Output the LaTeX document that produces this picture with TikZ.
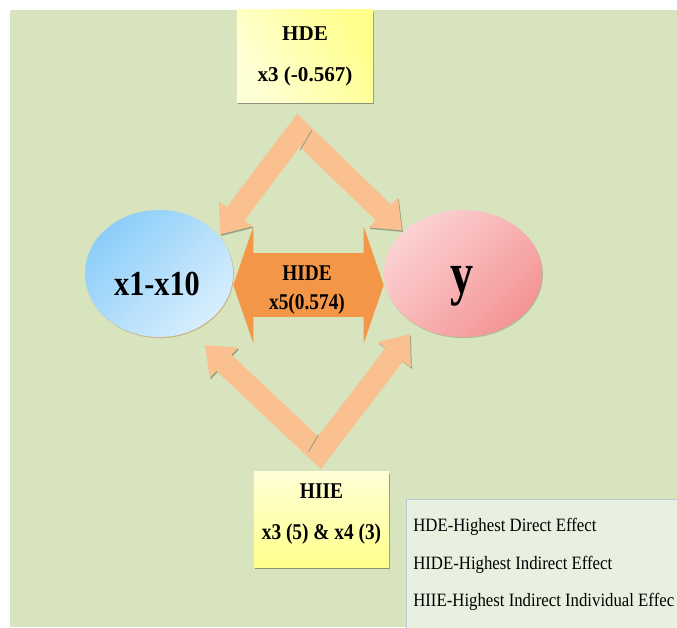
\documentclass[tikz,border=0pt]{standalone}
\usepackage{fontspec}
\setmainfont{Liberation Serif}
\newfontfamily\condfont{Liberation Serif}[FakeStretch=0.86]
\newfontfamily\legfont{Liberation Serif}[FakeStretch=0.89]
\newfontfamily\yfont{Liberation Serif}[FakeStretch=0.78]
\usetikzlibrary{shapes.geometric,arrows.meta,calc,shadows}

\definecolor{bggreen}{RGB}{215,228,189}
\definecolor{legfill}{RGB}{234,240,223}
\definecolor{legedge}{RGB}{184,204,214}
\definecolor{paleyellow}{RGB}{255,255,214}
\definecolor{boxyellow}{RGB}{255,255,140}
\definecolor{lightblue}{RGB}{140,206,249}
\definecolor{paleblue}{RGB}{216,238,253}
\definecolor{palepink}{RGB}{252,210,210}
\definecolor{rosepink}{RGB}{244,148,150}
\definecolor{peach}{RGB}{250,192,144}
\definecolor{hideorange}{RGB}{243,150,72}
\definecolor{edgegrey}{RGB}{150,162,130}

\begin{document}
\begin{tikzpicture}
        [x=0.025cm, y=-0.025cm,
        resultbox/.style = {rectangle, inner sep=0,
        drop shadow={shadow xshift=1pt, shadow yshift=-1.6pt, fill=black, opacity=0.35}},
        var/.style = {ellipse, inner sep=0, minimum height=3.175cm},
        effect/.style = {draw=peach, line width=0.55cm, line join=miter,
        {Triangle[length=0.65cm,width=1cm]}-{Triangle[length=0.65cm,width=1cm]},
        preaction={draw=edgegrey, transform canvas={shift={(1,1.5)}}}},
        hidearrow/.style = {draw=hideorange, line width=1.6cm,
        {Triangle[length=0.5cm,width=2.9cm]}-{Triangle[length=0.5cm,width=2.9cm]}},
        boxtext/.style = {anchor=base, inner sep=0}]

        \clip (0,0) rectangle (677,627);

        % Background
        \fill[bggreen] (10,10) rectangle (677,627);

        % Variables
        \node[var, minimum width=3.7cm, top color=lightblue, bottom color=paleblue,
        shading angle=45, drop shadow={shadow xshift=0.6pt, shadow yshift=-0.8pt,
        fill=brown, opacity=0.45}] (X) at (159,273.5) {};
        \node[var, minimum width=3.95cm, top color=palepink, bottom color=rosepink,
        shading angle=45, drop shadow={shadow xshift=0.6pt, shadow yshift=-0.8pt,
        fill=edgegrey, opacity=0.6}] (Y) at (463,273.5) {};
        \node[boxtext, font=\condfont\bfseries\fontsize{25}{30}\selectfont] (Xlab)
        at ($(X.center)+(-2,21.5)$) {x1-x10};
        \node[boxtext, font=\yfont\bfseries\fontsize{42}{48}\selectfont] (Ylab)
        at ($(Y.center)+(-1,19.5)$) {y};

        % Direct effect box
        \node[resultbox, minimum width=3.4cm, minimum height=2.3cm,
        top color=boxyellow, bottom color=paleyellow, shading angle=-60] (hde) at (305,56) {};
        \node[boxtext, font=\bfseries\fontsize{15}{18}\selectfont] (hdeA)
        at ($(hde.north)+(0,30.7)$) {HDE};
        \node[boxtext, font=\bfseries\fontsize{15}{18}\selectfont] (hdeB)
        at ($(hde.north)+(0,71.7)$) {x3 (-0.567)};

        % Indirect individual effect box
        \node[resultbox, minimum width=3.375cm, minimum height=2.375cm,
        top color=paleyellow, bottom color=boxyellow] (hiie) at (321.5,519.5) {};
        \node[boxtext, font=\condfont\bfseries\fontsize{16}{19}\selectfont] (hiieA)
        at ($(hiie.north)+(0,26.3)$) {HIIE};
        \node[boxtext, font=\condfont\bfseries\fontsize{16}{19}\selectfont] (hiieB)
        at ($(hiie.north)+(0,68)$) {x3 (5) \& x4 (3)};

        % Arrows
        \coordinate (topjoin) at ($(hde.south)+(-6.5,28)$);
        \coordinate (botjoin) at ($(hiie.north)+(-2,-19)$);
        \draw[effect] ($(X.center)+(61,-39)$) -- (topjoin) -- ($(Y.center)+(-61,-43)$);
        \draw[edgegrey, line width=0.6pt] ($(topjoin)+(13.2,0)$) -- ($(topjoin)+(1.5,20)$);
        \draw[effect] ($(X.center)+(46,71.5)$) -- (botjoin) -- ($(Y.center)+(-53,60.5)$);
        \draw[edgegrey, line width=0.6pt] ($(botjoin)+(-1,-18)$) -- ($(botjoin)+(-11,-1)$);

        \draw[hidearrow] ($(X.east)+(0,11.5)$) -- ($(Y.west)+(0,11.5)$);
        \node[boxtext, font=\condfont\bfseries\fontsize{16}{19}\selectfont] (hideA)
        at (307,280) {HIDE};
        \node[boxtext, font=\condfont\bfseries\fontsize{16}{19}\selectfont] (hideB)
        at (307,309) {x5(0.574)};

        % Legend
        \node[rectangle, draw=legedge, fill=legfill, anchor=north west, inner sep=0,
        minimum width=7.1cm, minimum height=3.525cm] (legend) at (406,499) {};
        \node[anchor=base west, inner sep=0, font=\legfont\fontsize{13.4}{16}\selectfont] (lgHDE)
        at ($(legend.north west)+(7,32)$) {HDE-Highest Direct Effect};
        \node[anchor=base west, inner sep=0, font=\legfont\fontsize{13.4}{16}\selectfont] (lgHIDE)
        at ($(legend.north west)+(7,70)$) {HIDE-Highest Indirect Effect};
        \node[anchor=base west, inner sep=0, font=\legfont\fontsize{13.4}{16}\selectfont] (lgHIIE)
        at ($(legend.north west)+(7,107.7)$) {HIIE-Highest Indirect Individual Effec};
    \end{tikzpicture}
\end{document}
